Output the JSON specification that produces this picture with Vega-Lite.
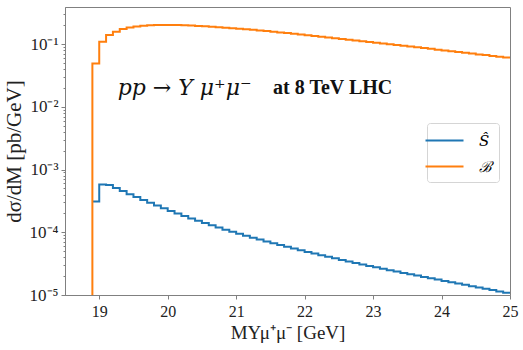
{
  "$schema": "https://vega.github.io/schema/vega-lite/v6.json",
  "width": 445,
  "height": 288,
  "autosize": {"type": "none"},
  "padding": {"left": 65, "top": 7, "right": 13, "bottom": 55},
  "background": "white",
  "config": {
    "view": {"stroke": "#808080", "strokeWidth": 1},
    "font": "Liberation Serif",
    "axis": {"grid": false, "domainColor": "#808080", "tickColor": "#808080", "labelColor": "#222", "titleColor": "#222", "labelFont": "Liberation Serif", "titleFont": "Liberation Serif", "titleFontWeight": "normal", "labelFontSize": 16, "titleFontSize": 19}
  },
  "datasets": {
    "hist": [
      {"m": 18.9, "v": 0.000309, "s": "Ŝ"},
      {"m": 19.0, "v": 0.0005754, "s": "Ŝ"},
      {"m": 19.1, "v": 0.0005689, "s": "Ŝ"},
      {"m": 19.2, "v": 0.0005070, "s": "Ŝ"},
      {"m": 19.3, "v": 0.0004529, "s": "Ŝ"},
      {"m": 19.4, "v": 0.0004055, "s": "Ŝ"},
      {"m": 19.5, "v": 0.0003639, "s": "Ŝ"},
      {"m": 19.6, "v": 0.0003273, "s": "Ŝ"},
      {"m": 19.7, "v": 0.0002951, "s": "Ŝ"},
      {"m": 19.8, "v": 0.0002667, "s": "Ŝ"},
      {"m": 19.9, "v": 0.0002415, "s": "Ŝ"},
      {"m": 20.0, "v": 0.0002193, "s": "Ŝ"},
      {"m": 20.1, "v": 0.0001995, "s": "Ŝ"},
      {"m": 20.2, "v": 0.0001820, "s": "Ŝ"},
      {"m": 20.3, "v": 0.0001663, "s": "Ŝ"},
      {"m": 20.4, "v": 0.0001524, "s": "Ŝ"},
      {"m": 20.5, "v": 0.0001400, "s": "Ŝ"},
      {"m": 20.6, "v": 0.0001288, "s": "Ŝ"},
      {"m": 20.7, "v": 0.0001189, "s": "Ŝ"},
      {"m": 20.8, "v": 0.0001099, "s": "Ŝ"},
      {"m": 20.9, "v": 0.0001019, "s": "Ŝ"},
      {"m": 21.0, "v": 0.00009462, "s": "Ŝ"},
      {"m": 21.1, "v": 0.00008810, "s": "Ŝ"},
      {"m": 21.2, "v": 0.00008204, "s": "Ŝ"},
      {"m": 21.3, "v": 0.00007656, "s": "Ŝ"},
      {"m": 21.4, "v": 0.00007145, "s": "Ŝ"},
      {"m": 21.5, "v": 0.00006683, "s": "Ŝ"},
      {"m": 21.6, "v": 0.00006252, "s": "Ŝ"},
      {"m": 21.7, "v": 0.00005861, "s": "Ŝ"},
      {"m": 21.8, "v": 0.00005495, "s": "Ŝ"},
      {"m": 21.9, "v": 0.00005164, "s": "Ŝ"},
      {"m": 22.0, "v": 0.00004853, "s": "Ŝ"},
      {"m": 22.1, "v": 0.00004571, "s": "Ŝ"},
      {"m": 22.2, "v": 0.00004305, "s": "Ŝ"},
      {"m": 22.3, "v": 0.00004064, "s": "Ŝ"},
      {"m": 22.4, "v": 0.00003837, "s": "Ŝ"},
      {"m": 22.5, "v": 0.00003622, "s": "Ŝ"},
      {"m": 22.6, "v": 0.00003428, "s": "Ŝ"},
      {"m": 22.7, "v": 0.00003243, "s": "Ŝ"},
      {"m": 22.8, "v": 0.00003069, "s": "Ŝ"},
      {"m": 22.9, "v": 0.00002911, "s": "Ŝ"},
      {"m": 23.0, "v": 0.00002761, "s": "Ŝ"},
      {"m": 23.1, "v": 0.00002618, "s": "Ŝ"},
      {"m": 23.2, "v": 0.00002489, "s": "Ŝ"},
      {"m": 23.3, "v": 0.00002366, "s": "Ŝ"},
      {"m": 23.4, "v": 0.00002249, "s": "Ŝ"},
      {"m": 23.5, "v": 0.00002138, "s": "Ŝ"},
      {"m": 23.6, "v": 0.00002037, "s": "Ŝ"},
      {"m": 23.7, "v": 0.00001941, "s": "Ŝ"},
      {"m": 23.8, "v": 0.00001849, "s": "Ŝ"},
      {"m": 23.9, "v": 0.00001762, "s": "Ŝ"},
      {"m": 24.0, "v": 0.00001679, "s": "Ŝ"},
      {"m": 24.1, "v": 0.00001600, "s": "Ŝ"},
      {"m": 24.2, "v": 0.00001524, "s": "Ŝ"},
      {"m": 24.3, "v": 0.00001452, "s": "Ŝ"},
      {"m": 24.4, "v": 0.00001384, "s": "Ŝ"},
      {"m": 24.5, "v": 0.00001318, "s": "Ŝ"},
      {"m": 24.6, "v": 0.00001256, "s": "Ŝ"},
      {"m": 24.7, "v": 0.00001197, "s": "Ŝ"},
      {"m": 24.8, "v": 0.00001140, "s": "Ŝ"},
      {"m": 24.9, "v": 0.00001086, "s": "Ŝ"},
      {"m": 25.0, "v": 0.00001086, "s": "Ŝ"},
      {"m": 18.8, "v": 0.0000001, "s": "ℬ"},
      {"m": 18.9, "v": 0.0490, "s": "ℬ"},
      {"m": 19.0, "v": 0.1089, "s": "ℬ"},
      {"m": 19.1, "v": 0.1390, "s": "ℬ"},
      {"m": 19.2, "v": 0.1570, "s": "ℬ"},
      {"m": 19.3, "v": 0.1734, "s": "ℬ"},
      {"m": 19.4, "v": 0.1845, "s": "ℬ"},
      {"m": 19.5, "v": 0.1914, "s": "ℬ"},
      {"m": 19.6, "v": 0.1963, "s": "ℬ"},
      {"m": 19.7, "v": 0.1995, "s": "ℬ"},
      {"m": 19.8, "v": 0.2014, "s": "ℬ"},
      {"m": 19.9, "v": 0.2018, "s": "ℬ"},
      {"m": 20.0, "v": 0.2018, "s": "ℬ"},
      {"m": 20.1, "v": 0.2009, "s": "ℬ"},
      {"m": 20.2, "v": 0.1995, "s": "ℬ"},
      {"m": 20.3, "v": 0.1977, "s": "ℬ"},
      {"m": 20.4, "v": 0.1950, "s": "ℬ"},
      {"m": 20.5, "v": 0.1923, "s": "ℬ"},
      {"m": 20.6, "v": 0.1892, "s": "ℬ"},
      {"m": 20.7, "v": 0.1862, "s": "ℬ"},
      {"m": 20.8, "v": 0.1828, "s": "ℬ"},
      {"m": 20.9, "v": 0.1795, "s": "ℬ"},
      {"m": 21.0, "v": 0.1758, "s": "ℬ"},
      {"m": 21.1, "v": 0.1722, "s": "ℬ"},
      {"m": 21.2, "v": 0.1687, "s": "ℬ"},
      {"m": 21.3, "v": 0.1648, "s": "ℬ"},
      {"m": 21.4, "v": 0.1611, "s": "ℬ"},
      {"m": 21.5, "v": 0.1574, "s": "ℬ"},
      {"m": 21.6, "v": 0.1535, "s": "ℬ"},
      {"m": 21.7, "v": 0.1496, "s": "ℬ"},
      {"m": 21.8, "v": 0.1459, "s": "ℬ"},
      {"m": 21.9, "v": 0.1422, "s": "ℬ"},
      {"m": 22.0, "v": 0.1387, "s": "ℬ"},
      {"m": 22.1, "v": 0.1349, "s": "ℬ"},
      {"m": 22.2, "v": 0.1312, "s": "ℬ"},
      {"m": 22.3, "v": 0.1276, "s": "ℬ"},
      {"m": 22.4, "v": 0.1242, "s": "ℬ"},
      {"m": 22.5, "v": 0.1208, "s": "ℬ"},
      {"m": 22.6, "v": 0.1175, "s": "ℬ"},
      {"m": 22.7, "v": 0.1143, "s": "ℬ"},
      {"m": 22.8, "v": 0.1112, "s": "ℬ"},
      {"m": 22.9, "v": 0.1081, "s": "ℬ"},
      {"m": 23.0, "v": 0.1052, "s": "ℬ"},
      {"m": 23.1, "v": 0.1023, "s": "ℬ"},
      {"m": 23.2, "v": 0.0995, "s": "ℬ"},
      {"m": 23.3, "v": 0.0968, "s": "ℬ"},
      {"m": 23.4, "v": 0.0942, "s": "ℬ"},
      {"m": 23.5, "v": 0.0916, "s": "ℬ"},
      {"m": 23.6, "v": 0.0889, "s": "ℬ"},
      {"m": 23.7, "v": 0.0863, "s": "ℬ"},
      {"m": 23.8, "v": 0.0839, "s": "ℬ"},
      {"m": 23.9, "v": 0.0815, "s": "ℬ"},
      {"m": 24.0, "v": 0.0793, "s": "ℬ"},
      {"m": 24.1, "v": 0.0769, "s": "ℬ"},
      {"m": 24.2, "v": 0.0748, "s": "ℬ"},
      {"m": 24.3, "v": 0.0726, "s": "ℬ"},
      {"m": 24.4, "v": 0.0706, "s": "ℬ"},
      {"m": 24.5, "v": 0.0685, "s": "ℬ"},
      {"m": 24.6, "v": 0.0667, "s": "ℬ"},
      {"m": 24.7, "v": 0.0647, "s": "ℬ"},
      {"m": 24.8, "v": 0.0630, "s": "ℬ"},
      {"m": 24.9, "v": 0.0611, "s": "ℬ"},
      {"m": 25.0, "v": 0.0611, "s": "ℬ"}
    ],
    "notes": [
      {"m": 19.27, "v": 0.02, "t": "pp → Υ μ⁺μ⁻", "k": "math"},
      {"m": 21.54, "v": 0.02, "t": "at 8 TeV LHC", "k": "bold"}
    ]
  },
  "layer": [
    {
      "data": {"name": "hist"},
      "mark": {"type": "line", "interpolate": "step-after", "strokeWidth": 2, "clip": true},
      "encoding": {
        "x": {"field": "m", "type": "quantitative", "scale": {"domain": [18.5, 25], "nice": false, "zero": false},
          "axis": {"values": [19, 20, 21, 22, 23, 24, 25], "format": "d", "title": "MΥμ⁺μ⁻ [GeV]", "tickSize": 4, "labelPadding": 4, "titlePadding": 4, "labelFlush": false}},
        "y": {"field": "v", "type": "quantitative", "scale": {"type": "log", "domain": [0.00001, 0.39], "nice": false},
          "axis": {
            "values": [0.00001, 0.00002, 0.00003, 0.00004, 0.00005, 0.00006, 0.00007, 0.00008, 0.00009, 0.0001, 0.0002, 0.0003, 0.0004, 0.0005, 0.0006, 0.0007, 0.0008, 0.0009, 0.001, 0.002, 0.003, 0.004, 0.005, 0.006, 0.007, 0.008, 0.009, 0.01, 0.02, 0.03, 0.04, 0.05, 0.06, 0.07, 0.08, 0.09, 0.1, 0.2, 0.3],
            "labelExpr": "abs(log(datum.value)/LN10 - round(log(datum.value)/LN10)) < 0.01 ? '10⁻' + ['⁰','¹','²','³','⁴','⁵','⁶'][-round(log(datum.value)/LN10)] : ''",
            "tickSize": {"condition": {"test": "abs(log(datum.value)/LN10 - round(log(datum.value)/LN10)) < 0.01", "value": 4}, "value": 2},
            "labelOverlap": false, "labelFlush": false, "labelPadding": 3, "labelFontSize": 17,
            "title": "dσ/dM [pb/GeV]", "titlePadding": 5, "titleFontSize": 21}},
        "color": {"field": "s", "type": "nominal", "scale": {"domain": ["Ŝ", "ℬ"], "range": ["#1f77b4", "#ff7f0e"]},
          "legend": {"title": null, "orient": "none", "legendX": 362, "legendY": 116, "symbolType": "M-2,0H2", "symbolSize": 361, "symbolStrokeWidth": 2, "labelFont": "DejaVu Serif", "labelFontStyle": "italic", "labelFontSize": 15, "padding": 7, "strokeColor": "#d5d5d5", "fillColor": "white", "cornerRadius": 3, "rowPadding": 7, "labelOffset": 24}}
      }
    },
    {
      "data": {"name": "notes"},
      "transform": [{"filter": "datum.k == 'math'"}],
      "mark": {"type": "text", "align": "left", "baseline": "middle", "font": "DejaVu Serif", "fontStyle": "italic", "fontSize": 22, "color": "#111"},
      "encoding": {"x": {"field": "m", "type": "quantitative"}, "y": {"field": "v", "type": "quantitative"}, "text": {"field": "t"}}
    },
    {
      "data": {"name": "notes"},
      "transform": [{"filter": "datum.k == 'bold'"}],
      "mark": {"type": "text", "align": "left", "baseline": "middle", "font": "Liberation Serif", "fontWeight": "bold", "fontSize": 20, "color": "#111"},
      "encoding": {"x": {"field": "m", "type": "quantitative"}, "y": {"field": "v", "type": "quantitative"}, "text": {"field": "t"}}
    }
  ]
}
